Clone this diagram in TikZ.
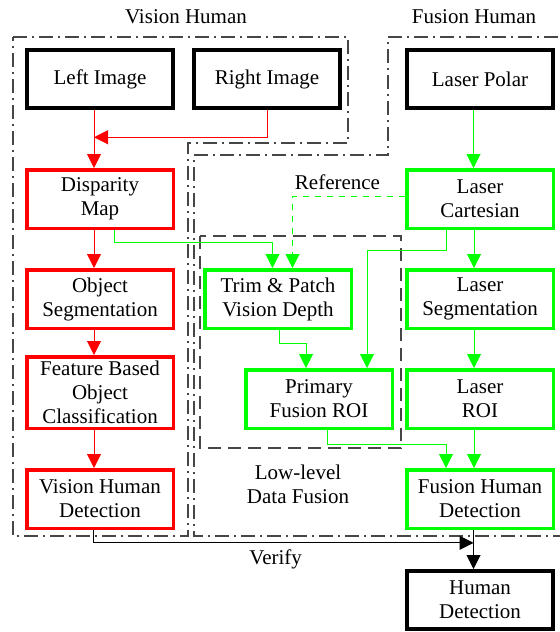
\documentclass[tikz,border=0pt]{standalone}
\usepackage{fontspec}
\setmainfont{Liberation Serif}
\usetikzlibrary{arrows.meta,positioning,calc}
\definecolor{vred}{RGB}{255,0,0}
\definecolor{fgreen}{RGB}{0,255,0}
\definecolor{frameC}{RGB}{70,70,70}
\tikzset{
  stagebox/.style={rectangle, draw=#1, line width=1.75pt, fill=white, align=center,
                   font=\fontsize{10.5}{12}\selectfont, minimum width=73.25pt, minimum height=29.25pt, inner sep=1pt},
  blkbox/.style={stagebox=black, line width=2pt, minimum width=73pt, minimum height=29pt},
  arr/.style={-{Triangle[length=7pt,width=7pt]}, line width=0.5pt, draw=#1},
  regionframe/.style={draw=frameC, line width=0.6pt, dash pattern=on 7pt off 2.5pt on 1pt off 2.5pt},
  lowframe/.style={draw=frameC, line width=0.6pt, dash pattern=on 6.5pt off 3.5pt},
  lbl/.style={font=\fontsize{10.5}{12}\selectfont, align=center, inner sep=1pt},
}
\begin{document}
\begin{tikzpicture}[x=0.5pt, y=-0.5pt, node distance=19pt]
    \clip (0,0) rectangle (560,632);
    % regions
    \draw[regionframe] (13,37) -- (348,37) -- (348,143) -- (188,143) -- (188,536) -- (13,536) -- cycle;
    \draw[regionframe] (388,37) -- (566,37) -- (566,536) -- (194,536) -- (194,155) -- (388,155) -- cycle;
    \draw[lowframe] (200,236) rectangle (401,448);
    \node[lbl] (vh) at (186,17) {Vision Human};
    \node[lbl] (fh) at (474,17) {Fusion Human};
    \node[lbl] (ll) at (298,484) {Low-level\\Data Fusion};
    % vision side
    \node[blkbox] (li) at (100,79) {Left Image};
    \node[blkbox, right=8.5pt of li] (ri) {Right Image};
    \node[stagebox=vred, below=29pt of li] (dm) {Disparity\\Map};
    \node[stagebox=vred, below=of dm] (os) {Object\\Segmentation};
    \node[stagebox=vred, minimum height=35.75pt, below=12.5pt of os] (fb) {Feature Based\\Object\\Classification};
    \node[stagebox=vred, below=of fb] (vhd) {Vision Human\\Detection};
    % laser side
    \node[blkbox, right=31.5pt of ri] (lp) {Laser Polar};
    \node[stagebox=fgreen, below=29pt of lp] (lc) {Laser\\Cartesian};
    \node[stagebox=fgreen, below=of lc] (ls) {Laser\\Segmentation};
    \node[stagebox=fgreen, below=of ls] (lr) {Laser\\ROI};
    \node[stagebox=fgreen, below=of lr] (fhd) {Fusion Human\\Detection};
    \node[blkbox, below=19.5pt of fhd] (hd) {Human\\Detection};
    % low-level fusion
    \node[stagebox=fgreen, left=26pt of ls] (tp) {Trim \& Patch\\Vision Depth};
    \node[stagebox=fgreen, left=5.5pt of lr] (pf) {Primary\\Fusion ROI};
    % connectors
    \coordinate (ld) at ($([xshift=-3pt]li.south)!0.47!([xshift=-3pt]dm.north)$);
    \draw[arr=vred] ([xshift=-3pt]li.south) -- ([xshift=-3pt]dm.north);
    \draw[arr=vred] (ri.south) |- (ld);
    \draw[arr=vred] ([xshift=-3pt]dm.south) -- ([xshift=-3pt]os.north);
    \draw[arr=vred] ([xshift=-3pt]os.south) -- ([xshift=-3pt]fb.north);
    \draw[arr=vred] ([xshift=-3pt]fb.south) -- ([xshift=-3pt]vhd.north);
    \draw[arr=fgreen] ([xshift=7pt]dm.south) -- ++(0,12) -| ([xshift=-2.75pt]tp.north);
    \draw[arr=fgreen] ([xshift=-3.25pt]lp.south) -- ([xshift=-3.25pt]lc.north);
    \draw[arr=fgreen] ([xshift=-3pt]lc.south) -- ([xshift=-3pt]ls.north);
    \draw[arr=fgreen] ([xshift=-3pt]ls.south) -- ([xshift=-3pt]lr.north);
    \draw[arr=fgreen] ([xshift=-3pt]lr.south) -- ([xshift=-3pt]fhd.north);
    \draw[arr=fgreen, dashed] ([yshift=1.5pt]lc.west) -| node[lbl, pos=0.3, above=2pt] (rf) {Reference} ([xshift=7.25pt]tp.north);
    \draw[arr=fgreen] ([xshift=-17pt]lc.south) -- ++(0,20) -| ([xshift=24pt]pf.north);
    \draw[arr=fgreen] ([xshift=0.75pt]tp.south) -- ++(0,13) -| ([xshift=-6.5pt]pf.north);
    \draw[arr=fgreen] ([xshift=4pt]pf.south) -- ++(0,14) -| ([xshift=-17pt]fhd.north);
    \coordinate (fd) at ($([xshift=-3.25pt]fhd.south)!0.33!([xshift=-3.25pt]hd.north)$);
    \draw[arr=black] ([xshift=-3.25pt]fhd.south) -- ([xshift=-3.25pt]hd.north);
    \draw[arr=black] ([xshift=-3.5pt]vhd.south) |- node[lbl, pos=0.74, below=2pt] (vf) {Verify} (fd);
\end{tikzpicture}
\end{document}
